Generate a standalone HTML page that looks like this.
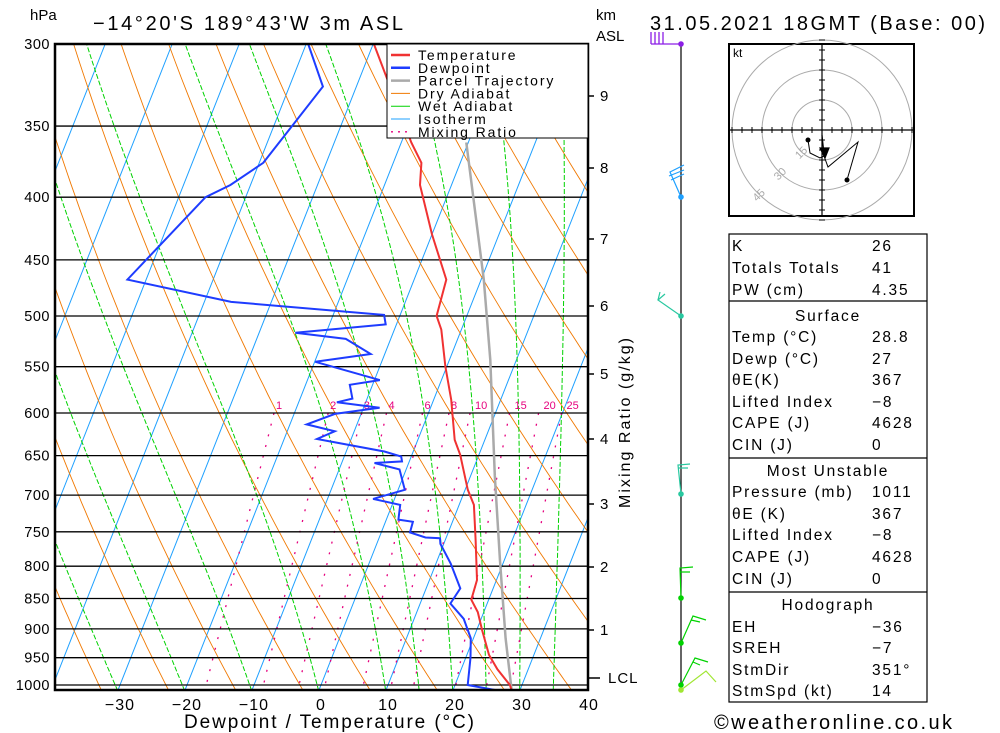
<!DOCTYPE html>
<html><head><meta charset="utf-8"><style>
body{margin:0;background:#fff;width:1000px;height:733px;overflow:hidden;font-family:"Liberation Sans",sans-serif}
svg{position:absolute;left:0;top:0}
text{font-family:"Liberation Sans",sans-serif}
</style></head><body>
<svg id="c" width="1000" height="733" xmlns="http://www.w3.org/2000/svg">
<defs><clipPath id="pc"><rect x="55" y="44" width="533" height="646"/></clipPath></defs>
<g id="bg" clip-path="url(#pc)"></g>
<g id="grid"></g>
<g id="series" clip-path="url(#pc)"></g>
<rect x="55" y="44" width="533" height="646" fill="none" stroke="#000" stroke-width="2.5"/>
<g id="axes"></g>
<g id="legend"></g>
<g id="wind"></g>
<g id="hodo"></g>
<g id="table"></g>
<text x="30" y="20" font-size="15">hPa</text>
<text x="93" y="30" font-size="20" textLength="310" lengthAdjust="spacing">−14°20'S  189°43'W  3m  ASL</text>
<text x="596" y="20" font-size="15">km</text>
<text x="596" y="41" font-size="15">ASL</text>
<text x="650" y="30" font-size="20" textLength="335" lengthAdjust="spacing">31.05.2021  18GMT  (Base: 00)</text>
<text x="184" y="728" font-size="19" textLength="290" lengthAdjust="spacing">Dewpoint / Temperature (°C)</text>
<text transform="translate(630,508) rotate(-90)" font-size="16" textLength="170" lengthAdjust="spacing">Mixing Ratio (g/kg)</text>
<text x="714" y="729" font-size="20" textLength="238" lengthAdjust="spacing">©weatheronline.co.uk</text>
</svg>
<script>
// ---- data ----
const tempP=[300,361,375,391,429,467,500,513,550,585,631,649,693,713,761,821,852,872,902,945,971,1000,1011];
const tempT=[-29.9,-18.5,-15.8,-14.7,-10,-5.2,-4.5,-3,-0.2,2.6,5.5,7.2,10.4,12.2,14.5,17.1,17.4,19.1,20.8,23.3,25.4,28.2,28.8];
const dewP=[300,325,375,391,400,467,487,499,508,516,522,537,545,564,569,584,588,594,601,613,621,630,645,651,657,659,667,693,705,713,733,736,751,758,759,767,796,834,858,883,916,950,1000,1011];
const dewT=[-39.7,-35,-39.4,-43,-46,-52.8,-36,-12.4,-11.6,-24.6,-16.7,-12.1,-19.9,-9.2,-13.4,-12.2,-14.3,-7.6,-13.9,-17.5,-12.9,-15.1,-4.3,-1.5,-1.1,-5.1,-1.0,1.0,-3.2,1.2,1.8,4.1,4.3,6.9,9.1,9.5,12.2,15.1,14.5,17.4,19.6,20.7,21.9,27];
const parcelP=[361,467,543,675,792,916,1011];
const parcelT=[-10.3,0.4,6.1,13.6,19.4,24.8,28.8];
const pressureTicks=[300,350,400,450,500,550,600,650,700,750,800,850,900,950,1000];
const tempTicks=[-30,-20,-10,0,10,20,30,40];
const kmLabels=['9','8','7','6','5','4','3','2','1'];
const kmY=[96,168,239,306,374,439,504,567,630];
const mixRatios=[1,2,3,4,6,8,10,15,20,25];
const hodoU=[-7,-6,-1,1,3,18,12.5];
const hodoV=[-5,-11.5,-14,-13,-18.5,-6,-25];
const hodoRings=[15,30,45];

const NS='http://www.w3.org/2000/svg';
function mk(tag,attrs,parent){const e=document.createElementNS(NS,tag);for(const k in attrs)e.setAttribute(k,attrs[k]);parent.appendChild(e);return e;}
function Y(p){return 44+Math.log(p/300)/Math.log(1000/300)*641;}
function X(T,p){return 321+6.7*T+0.395*(685-Y(p));}
const bg=document.getElementById('bg'),grid=document.getElementById('grid'),ser=document.getElementById('series'),axes=document.getElementById('axes');
function poly(pts,attrs,parent,name){const e=mk('polyline',Object.assign({points:pts.map(q=>q[0].toFixed(1)+','+q[1].toFixed(1)).join(' '),fill:'none'},attrs),parent);


return e;}
// isotherms
for(let T=-110;T<=40;T+=10){poly([[X(T,1011),Y(1011)],[X(T,300),Y(300)]],{stroke:'#1ea0ff','stroke-width':1},bg,'isotherm');}
// dry adiabats
for(let th=230;th<=470;th+=10){const pts=[];for(let p=300;p<=1011;p+=10){const T=th*Math.pow(p/1000,0.286)-273.15;pts.push([X(T,p),Y(p)]);}poly(pts,{stroke:'#f07800','stroke-width':0.9},bg,'dry-adiabat');}
// wet adiabats
function es(Tc){return 6.112*Math.exp(17.67*Tc/(Tc+243.5));}
const wetStarts=[-40,-30,-20,-10,0,10,15,20,25,30,35];
wetStarts.forEach(t0=>{let T=t0+273.15,p=1011;const pts=[[X(t0,p),Y(p)]];while(p>300){const e=es(T-273.15);const rs=0.622*e/(p-e);const dTdp=(287*T+2.5e6*rs)/(1004+2.5e6*2.5e6*rs*0.622/(287*T*T))/p;T-=dTdp*5;p-=5;pts.push([X(T-273.15,p),Y(p)]);}
poly(pts,{stroke:'#00d200','stroke-width':1,'stroke-dasharray':'5,2'},bg,'wet-adiabat');});
// mixing ratio lines
mixRatios.forEach((w,i)=>{const pts=[];[600,1011].forEach(p=>{const e=w*p/(622+w);const l=Math.log(e/6.112);const Td=243.5*l/(17.67-l);pts.push([X(Td,p),Y(p)]);});
poly(pts,{stroke:'#e6007e','stroke-width':1.3,'stroke-dasharray':'2,9'},bg,'mixing-ratio-line');
const e=w*600/(622+w),l=Math.log(e/6.112),Td=243.5*l/(17.67-l);
const t=mk('text',{x:(X(Td,600)+5+(w>=10?6:0)).toFixed(1),y:409,'font-size':11,fill:'#e6007e','text-anchor':'middle'},bg);t.textContent=w;

});
// pressure grid & labels
pressureTicks.forEach(p=>{const y=Y(p);const l=mk('line',{x1:55,x2:588,y1:y,y2:y,stroke:'#000','stroke-width':1.3},grid);


const t=mk('text',{x:50,y:y+5,'font-size':14.5,'text-anchor':'end','letter-spacing':'0.5'},axes);t.textContent=p;

});
tempTicks.forEach(T=>{const t=mk('text',{x:X(T,1000),y:710,'font-size':16,'text-anchor':'middle','letter-spacing':'1'},axes);t.textContent=(T<0?'−':'')+Math.abs(T);

});
kmLabels.forEach((k,i)=>{const y=kmY[i];mk('line',{x1:588,x2:594,y1:y,y2:y,stroke:'#000','stroke-width':1.5},axes);const t=mk('text',{x:600,y:y+5,'font-size':15},axes);t.textContent=k;

});
mk('line',{x1:588,x2:600,y1:678,y2:678,stroke:'#000','stroke-width':1.5},axes);
{const t=mk('text',{x:608,y:683,'font-size':15,'letter-spacing':'1'},axes);t.textContent='LCL';}
// series
poly(parcelP.map((p,i)=>[X(parcelT[i],p),Y(p)]),{stroke:'#aaa','stroke-width':2.5},ser,'parcel-trajectory');
poly(tempP.map((p,i)=>[X(tempT[i],p),Y(p)]),{stroke:'#f03232','stroke-width':2},ser,'temperature-line');
poly(dewP.map((p,i)=>[X(dewT[i],p),Y(p)]),{stroke:'#1e3cff','stroke-width':2},ser,'dewpoint-line');
// legend
const lg=document.getElementById('legend');
mk('rect',{x:387,y:44,width:201,height:94,fill:'#fff',stroke:'#000','stroke-width':1},lg);
[['Temperature','#f03232',2.5,''],['Dewpoint','#1e3cff',2.5,''],['Parcel Trajectory','#aaa',2.5,''],['Dry Adiabat','#f07800',1,''],['Wet Adiabat','#00d200',1,''],['Isotherm','#1ea0ff',1,''],['Mixing Ratio','#e6007e',1.3,'2,5']].forEach((it,i)=>{const y=55+i*12.8;
const g=mk('g',{},lg);


mk('line',{x1:391,x2:410,y1:y,y2:y,stroke:it[1],'stroke-width':it[2],'stroke-dasharray':it[3]},g);
const t=mk('text',{x:418,y:y+5,'font-size':14,'letter-spacing':'1.9'},g);t.textContent=it[0];});
// wind barbs
const wd=document.getElementById('wind');
mk('line',{x1:681,x2:681,y1:44,y2:690,stroke:'#000','stroke-width':1.2},wd);
[[44,'#8c1ee6'],[197,'#1ea0ff'],[316,'#28c8a0'],[494,'#28c8a0'],[598,'#00d200'],[643,'#00d200'],[685,'#00d200'],[690,'#a0e632']].forEach(d=>{const c=mk('circle',{cx:681,cy:d[0],r:2.8,fill:d[1]},wd);});
mk('path',{d:'M681,44 L651,44 M651,44 L651,32 M655,44 L655,32 M659,44 L659,32 M663,44 L663,32',stroke:'#8c1ee6','stroke-width':1.3,fill:'none'},wd);
mk('path',{d:'M681,197 L670,172 L684,165 M669,176 L684,170 M671,180 L684,174',stroke:'#1ea0ff','stroke-width':1.2,fill:'none'},wd);
mk('path',{d:'M681,316 L658,300 L665,294 M658,300 L660,292',stroke:'#28c8a0','stroke-width':1.2,fill:'none'},wd);
mk('path',{d:'M681,494 L678,465 L690,464 M678,468 L688,468',stroke:'#28c8a0','stroke-width':1.2,fill:'none'},wd);
mk('path',{d:'M681,598 L680,568 L693,567 M680,572 L690,572',stroke:'#00d200','stroke-width':1.2,fill:'none'},wd);
mk('path',{d:'M681,643 L693,616 L706,620 M691,620 L700,622',stroke:'#00d200','stroke-width':1.2,fill:'none'},wd);
mk('path',{d:'M681,685 L695,658 L708,662 M693,662 L700,665',stroke:'#00d200','stroke-width':1.2,fill:'none'},wd);
mk('path',{d:'M681,690 L706,671 L716,682',stroke:'#a0e632','stroke-width':1.2,fill:'none'},wd);
// hodograph
const hd=document.getElementById('hodo');const cx=822,cy=130,sc=2;
mk('rect',{x:729,y:44,width:185,height:172,fill:'#fff',stroke:'#000','stroke-width':2},hd);
hodoRings.forEach(r=>{const c=mk('circle',{cx:cx,cy:cy,r:r*sc,fill:'none',stroke:'#aaa','stroke-width':1},hd);
const a=225*Math.PI/180;const t=mk('text',{x:(cx+Math.cos(a)*r*sc+3).toFixed(1),y:(cy-Math.sin(a)*r*sc+4).toFixed(1),'font-size':11,fill:'#aaa','text-anchor':'middle',transform:`rotate(-45 ${(cx+Math.cos(a)*r*sc+3).toFixed(1)} ${(cy-Math.sin(a)*r*sc+4).toFixed(1)})`},hd);t.textContent=r;});
mk('line',{x1:729,x2:914,y1:cy,y2:cy,stroke:'#000','stroke-width':1.2},hd);
mk('line',{x1:cx,x2:cx,y1:44,y2:216,stroke:'#000','stroke-width':1.2},hd);
for(let k=-45;k<=45;k+=5){if(!k)continue;mk('line',{x1:cx+k*sc,x2:cx+k*sc,y1:cy-3,y2:cy+3,stroke:'#000'},hd);mk('line',{x1:cx-3,x2:cx+3,y1:cy+k*sc,y2:cy+k*sc,stroke:'#000'},hd);}
{const t=mk('text',{x:733,y:57,'font-size':12},hd);t.textContent='kt';}
poly(hodoU.map((u,i)=>[cx+u*sc,cy-hodoV[i]*sc]),{stroke:'#000','stroke-width':1},hd,'hodograph-trace');
[0,hodoU.length-1].forEach(i=>{const c=mk('circle',{cx:cx+hodoU[i]*sc,cy:cy-hodoV[i]*sc,r:2.5,fill:'#000'},hd);});
mk('path',{d:`M${cx},${cy+5} L${cx+2},${cy+24} M${cx-2},${cy+18} L${cx+3},${cy+28} L${cx+7},${cy+18} Z`,stroke:'#000','stroke-width':1.2,fill:'#000'},hd);
// table
const tb=document.getElementById('table');
mk('rect',{x:729,y:234,width:198,height:468,fill:'none',stroke:'#000','stroke-width':1.2},tb);
[301,458,592].forEach(y=>mk('line',{x1:729,x2:927,y1:y,y2:y,stroke:'#000','stroke-width':1.2},tb));
const rows=[['K','26',246],['Totals Totals','41',268],['PW (cm)','4.35',290],['#Surface','',316],['Temp (°C)','28.8',337],['Dewp (°C)','27',359],['θE(K)','367',380],['Lifted Index','-8',402],['CAPE (J)','4628',423],['CIN (J)','0',445],['#Most Unstable','',471],['Pressure (mb)','1011',492],['θE (K)','367',514],['Lifted Index','-8',535],['CAPE (J)','4628',557],['CIN (J)','0',579],['#Hodograph','',605],['EH','-36',627],['SREH','-7',648],['StmDir','351°',670],['StmSpd (kt)','14',691]];
rows.forEach(r=>{const y=r[2]+5;
if(r[0][0]==='#'){const t=mk('text',{x:828,y:y,'font-size':15.5,'text-anchor':'middle','letter-spacing':'1.8'},tb);t.textContent=r[0].slice(1);return;}
const t=mk('text',{x:732,y:y,'font-size':15.5,'letter-spacing':'1.8'},tb);t.textContent=r[0];


const v=mk('text',{x:872,y:y,'font-size':15.5,'letter-spacing':'1.8'},tb);v.textContent=r[1].replace('-','−');

});
</script>
</body></html>
